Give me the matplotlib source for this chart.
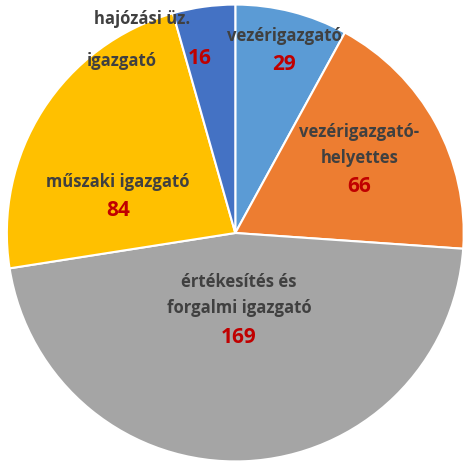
import numpy as np
import matplotlib
matplotlib.use("Agg")
from matplotlib import pyplot as plt

labels = ["vezérigazgató", "vezérigazgató-\nhelyettes", "értékesítés és\nforgalmi igazgató",
          "műszaki igazgató", "hajózási üz.\nigazgató"]
values = [29, 66, 169, 84, 16]
colors = ["#5B9BD5", "#ED7D31", "#A5A5A5", "#FFC000", "#4472C4"]

# label radius and angle shift per slice (degrees)
lab_r = [0.86, 0.62, 0.36, 0.55, 0.90]
lab_shift = [0, 0, 0, 12, 14]

plt.rcParams["font.family"] = ["Open Sans", "DejaVu Sans"]
fig = plt.figure(figsize=(4.66, 4.66), dpi=100)
ax = fig.add_axes([0, 0, 1, 1])
wedges, _ = ax.pie(values, colors=colors, startangle=90, counterclock=False,
                   wedgeprops=dict(edgecolor="white", linewidth=1.5))

for i, w in enumerate(wedges):
    ang = np.deg2rad((w.theta1 + w.theta2) / 2 + lab_shift[i])
    x, y = lab_r[i] * np.cos(ang), lab_r[i] * np.sin(ang)
    if i == 4:
        ax.text(x - 0.07, y + 0.1, "hajózási üz.", ha="center", va="center",
                fontsize=12, fontweight="bold", color="#404040")
        ax.text(x - 0.16, y - 0.08, "igazgató", ha="center", va="center",
                fontsize=12, fontweight="bold", color="#404040")
        ax.text(x + 0.18, y - 0.07, str(values[i]), ha="center", va="center",
                fontsize=15, fontweight="bold", color="#C00000")
        continue
    ax.text(x, y - 0.01, labels[i], ha="center", va="bottom", fontsize=12,
            fontweight="bold", color="#404040", linespacing=1.6)
    ax.text(x, y - 0.05, str(values[i]), ha="center", va="top", fontsize=15,
            fontweight="bold", color="#C00000")

ax.set_xlim(-1.03, 1.01)
ax.set_ylim(-1.02, 1.02)
ax.set_aspect("equal")
ax.axis("off")
fig.savefig("out.png", dpi=100)
